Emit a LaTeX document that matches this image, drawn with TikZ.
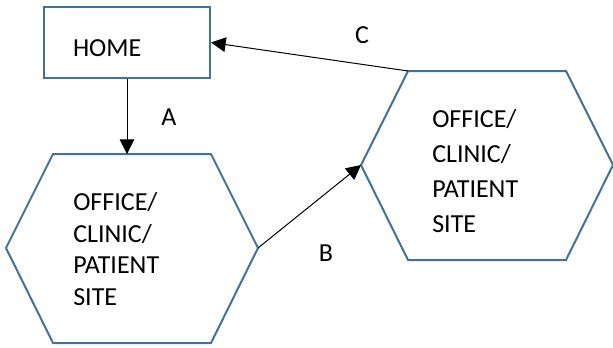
\documentclass[tikz,border=0pt]{standalone}
\usepackage{fontspec}
\setmainfont{Carlito}
\usetikzlibrary{arrows.meta, positioning}
\definecolor{shapeblue}{HTML}{41719C}

\begin{document}
\begin{tikzpicture}[x=0.75pt, y=-0.75pt,
    every node/.style={font=\fontsize{19.5}{23.85}\selectfont},
    site/.style={draw=shapeblue, line width=1.5pt, line join=miter},
    sitetext/.style={anchor=west, inner sep=0pt, align=left},
    trip/.style={-{Triangle[length=11pt,width=11pt]}, line width=0.75pt}]
  \useasboundingbox (0,0) rectangle (613,347);

  % home box
  \node[draw=shapeblue, line width=1.5pt, minimum width=124.5pt, minimum height=53.25pt,
        text width=81pt, inner xsep=21.75pt, text height=20.25pt, text depth=0pt,
        align=left] (home) at (127,42.5) {HOME};

  % first site
  \coordinate (siteA-w) at (6,248);
  \coordinate (siteA-nw) at (53,154);
  \coordinate (siteA-ne) at (211,154);
  \coordinate (siteA-e) at (258,248);
  \coordinate (siteA-se) at (211,343);
  \coordinate (siteA-sw) at (53,343);
  \draw[site] (siteA-w) -- (siteA-nw) -- (siteA-ne) -- (siteA-e) -- (siteA-se) -- (siteA-sw) -- cycle;
  \node[sitetext] (siteA) at (73,249) {OFFICE/\\CLINIC/\\PATIENT\\SITE};

  % second site
  \coordinate (siteB-w) at (361,165);
  \coordinate (siteB-nw) at (408,71);
  \coordinate (siteB-ne) at (566,71);
  \coordinate (siteB-e) at (613,165);
  \coordinate (siteB-se) at (566,260);
  \coordinate (siteB-sw) at (408,260);
  \draw[site] (siteB-w) -- (siteB-nw) -- (siteB-ne) -- (siteB-e) -- (siteB-se) -- (siteB-sw) -- cycle;
  \node[sitetext, font=\fontsize{19.5}{26.25}\selectfont] (siteB) at (432,171) {OFFICE/\\CLINIC/\\PATIENT\\SITE};

  % trips
  \draw[trip] (home.south) -- (home.south |- siteA-nw);
  \draw[trip] (siteA-e) -- (siteB-w);
  \draw[trip] (siteB-nw) -- (home.east);

  \node (labA) at (169,117) {A};
  \node (labB) at (326,253) {B};
  \node (labC) at (362,35.5) {C};
\end{tikzpicture}
\end{document}
